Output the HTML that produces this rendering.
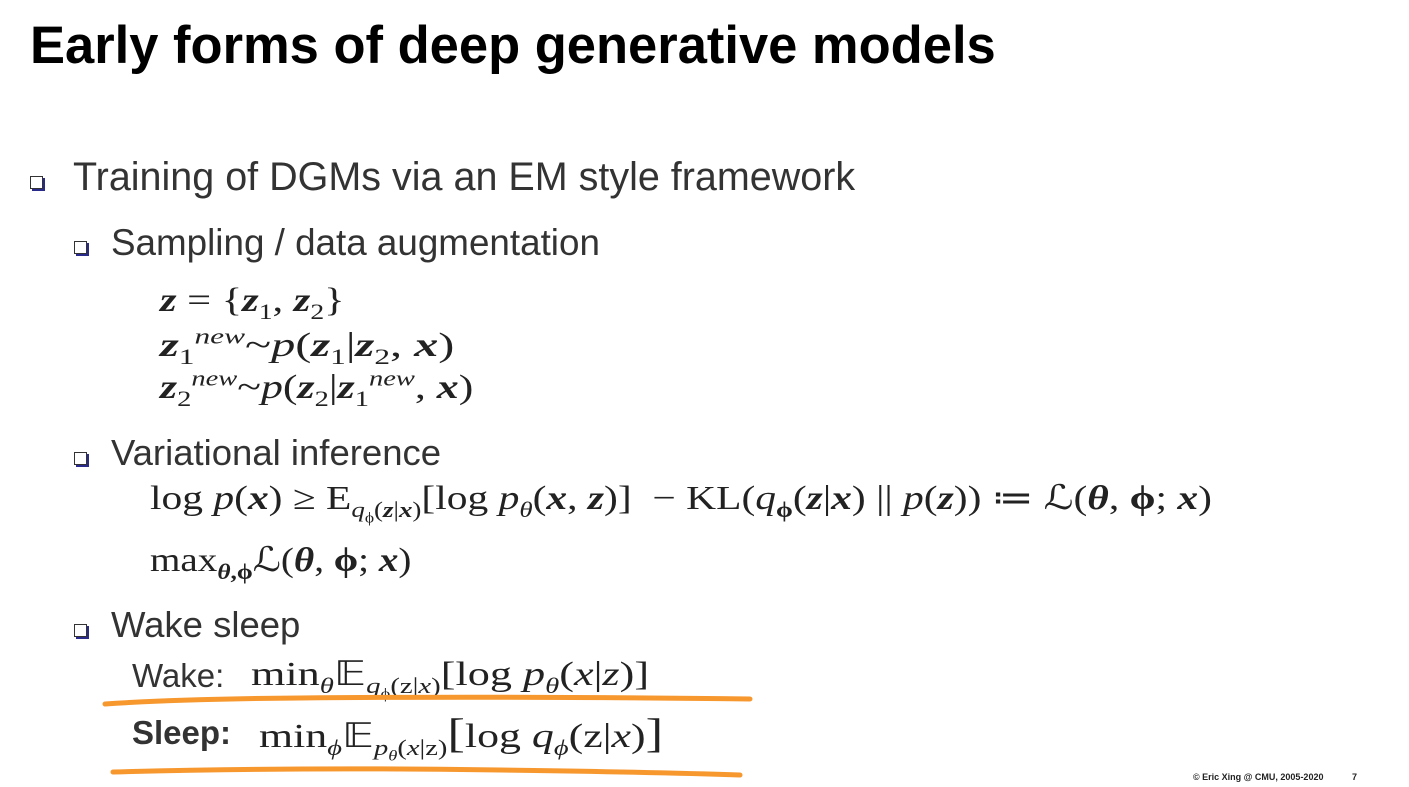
<!DOCTYPE html>
<html><head><meta charset="utf-8"><style>
body{margin:0;width:1409px;height:787px;background:#fff;position:relative;overflow:hidden;font-family:"Liberation Sans",sans-serif;color:#333}
.a{position:absolute;white-space:nowrap;line-height:1}
.m{font-family:"Liberation Serif",serif;color:#222;transform-origin:0 50%}
.sq{position:absolute;width:11px;height:11px;border:1.5px solid #333;box-shadow:2px 2px 0 #2a2a8a;background:#fff}
sub,sup{font-size:65%;line-height:0}
b{font-weight:bold}
</style></head><body>
<div class="a" style="left:30px;top:20px;font-size:52.5px;font-weight:bold;color:#000">Early forms of deep generative models</div>
<div class="sq" style="left:30px;top:176px"></div>
<div class="a" style="left:73px;top:158px;font-size:39.5px">Training of DGMs via an EM style framework</div>
<div class="sq" style="left:74px;top:241px"></div>
<div class="a" style="left:111px;top:225px;font-size:36.8px">Sampling / data augmentation</div>
<div class="a m" style="left:160px;top:284px;font-size:34px;transform:scaleX(1.25)"><b><i>z</i></b> = {<b><i>z</i></b><sub>1</sub>, <b><i>z</i></b><sub>2</sub>}</div>
<div class="a m" style="left:160px;top:329px;font-size:34px;transform:scaleX(1.42)"><b><i>z</i></b><sub>1</sub><sup><i>new</i></sup>~<i>p</i>(<b><i>z</i></b><sub>1</sub>|<b><i>z</i></b><sub>2</sub>, <b><i>x</i></b>)</div>
<div class="a m" style="left:160px;top:371px;font-size:34px;transform:scaleX(1.29)"><b><i>z</i></b><sub>2</sub><sup><i>new</i></sup>~<i>p</i>(<b><i>z</i></b><sub>2</sub>|<b><i>z</i></b><sub>1</sub><sup><i>new</i></sup>, <b><i>x</i></b>)</div>
<div class="sq" style="left:74px;top:452px"></div>
<div class="a" style="left:111px;top:435px;font-size:36.5px">Variational inference</div>
<div class="a m" style="left:150px;top:482px;font-size:34px;transform:scaleX(1.22)">log <i>p</i>(<b><i>x</i></b>) ≥ E<sub><i>q</i><sub>ϕ</sub>(<b><i>z</i></b>|<b><i>x</i></b>)</sub>[log <i>p</i><sub><i>θ</i></sub>(<b><i>x</i></b>, <b><i>z</i></b>)] &nbsp;− KL(<i>q</i><sub><b>ϕ</b></sub>(<b><i>z</i></b>|<b><i>x</i></b>) || <i>p</i>(<b><i>z</i></b>)) ≔ ℒ(<b><i>θ</i></b>, <b>ϕ</b>; <b><i>x</i></b>)</div>
<div class="a m" style="left:150px;top:544px;font-size:34px;transform:scaleX(1.15)">max<sub><b><i>θ</i>,ϕ</b></sub>ℒ(<b><i>θ</i></b>, <b>ϕ</b>; <b><i>x</i></b>)</div>
<div class="sq" style="left:74px;top:624px"></div>
<div class="a" style="left:111px;top:607px;font-size:36.5px">Wake sleep</div>
<div class="a" style="left:132px;top:659px;font-size:33px">Wake:</div>
<div class="a m" style="left:251px;top:658px;font-size:34px;transform:scaleX(1.3)">min<sub><i>θ</i></sub>𝔼<sub><i>q</i><sub>ϕ</sub>(z|<i>x</i>)</sub>[log <i>p</i><sub><i>θ</i></sub>(<i>x</i>|<i>z</i>)]</div>
<div class="a" style="left:132px;top:716px;font-size:33px;font-weight:bold">Sleep:</div>
<div class="a m" style="left:259px;top:714px;font-size:34px;transform:scaleX(1.29)">min<sub><i>ϕ</i></sub>𝔼<sub><i>p</i><sub><i>θ</i></sub>(<i>x</i>|z)</sub><span style="font-size:120%">[</span>log <i>q</i><sub><i>ϕ</i></sub>(z|<i>x</i>)<span style="font-size:120%">]</span></div>
<svg class="a" style="left:0;top:0" width="1409" height="787"><path d="M105 704 Q180 699 300 698 Q500 696 750 699" stroke="#f7982f" stroke-width="5" fill="none" stroke-linecap="round"/><path d="M113 772 Q300 767 500 770 Q650 772 740 775" stroke="#f7982f" stroke-width="5" fill="none" stroke-linecap="round"/></svg>
<div class="a" style="left:1193px;top:773px;font-size:9px;font-weight:bold;color:#222">© Eric Xing @ CMU, 2005-2020</div>
<div class="a" style="left:1352px;top:773px;font-size:9px;font-weight:bold;color:#222">7</div>
</body></html>
